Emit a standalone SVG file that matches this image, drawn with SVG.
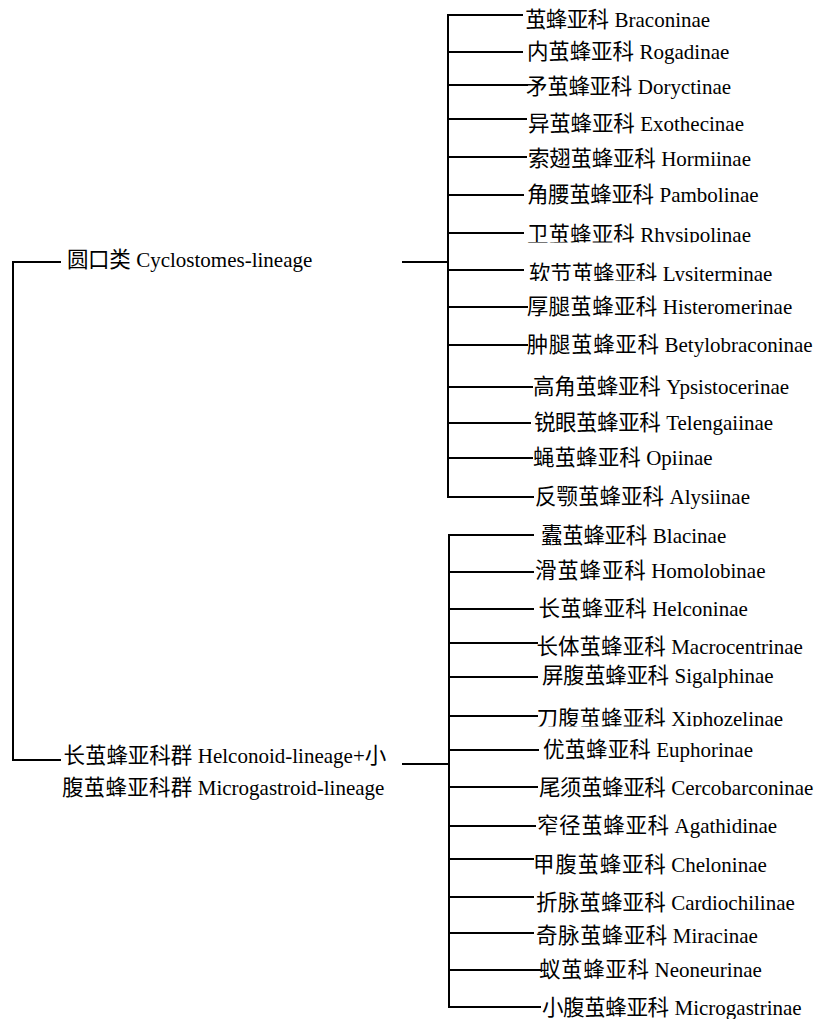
<svg xmlns="http://www.w3.org/2000/svg" width="818" height="1019" viewBox="0 0 818 1019">
<style>
.t{font-family:"Liberation Serif","Times New Roman",serif;font-size:21px;fill:#000}
.z{font-family:"Noto Sans CJK SC","Noto Sans CJK JP",sans-serif;font-size:21.5px;fill:#000}
.c{stroke:#000;stroke-width:2;fill:none;stroke-linecap:square}
</style>
<defs>
<clipPath id="clipR"><rect x="500" y="200" width="318" height="42.5"/></clipPath>
<clipPath id="clipL"><rect x="500" y="250" width="318" height="31"/></clipPath>
<clipPath id="clipX"><rect x="500" y="690" width="318" height="36.5"/></clipPath>
</defs>
<rect width="818" height="1019" fill="#fff"/>
<g id="connectors" class="c">
<path d="M60,262 H13 V760 H60"/>
<path d="M403,262 H448"/>
<path d="M403,764 H449"/>
<path d="M522,15 H448 V497 H533"/>
<path d="M448,52 H522 M448,85 H527 M448,119 H526 M448,157 H526 M448,195 H523 M448,233 H523 M448,270 H523 M448,307 H527 M448,345 H527 M448,387 H532 M448,423 H530 M448,458 H532"/>
<path d="M533,535 H449 V1007 H540"/>
<path d="M449,572 H533 M449,609 H533 M449,643 H537 M449,677 H537 M449,716 H537 M449,750 H538 M449,787 H537 M449,826 H535 M449,859 H533 M449,897 H533 M449,933 H533 M449,970 H540"/>
</g>
<g id="cyclostomes"><text class="z" x="67" y="267" textLength="63.7" lengthAdjust="spacing">圆口类</text><text class="t" x="136.2" y="267">Cyclostomes-lineage</text></g>
<g id="helconoid"><text class="z" x="63.5" y="763" textLength="128.8" lengthAdjust="spacing">长茧蜂亚科群</text><text class="t" x="197.8" y="763">Helconoid-lineage+<tspan class="z">小</tspan></text><text class="z" x="62" y="795" textLength="130.3" lengthAdjust="spacing">腹茧蜂亚科群</text><text class="t" x="197.8" y="795">Microgastroid-lineage</text></g>
<g id="braconinae"><text class="z" x="525" y="26.5" textLength="84" lengthAdjust="spacing">茧蜂亚科</text><text class="t" x="614.5" y="26.5">Braconinae</text></g>
<g id="rogadinae"><text class="z" x="527" y="58.5" textLength="107" lengthAdjust="spacing">内茧蜂亚科</text><text class="t" x="639.5" y="58.5">Rogadinae</text></g>
<g id="doryctinae"><text class="z" x="526" y="94" textLength="106.3" lengthAdjust="spacing">矛茧蜂亚科</text><text class="t" x="637.8" y="94">Doryctinae</text></g>
<g id="exothecinae"><text class="z" x="528" y="130.5" textLength="106.7" lengthAdjust="spacing">异茧蜂亚科</text><text class="t" x="640.2" y="130.5">Exothecinae</text></g>
<g id="hormiinae"><text class="z" x="528" y="166" textLength="127.7" lengthAdjust="spacing">索翅茧蜂亚科</text><text class="t" x="661.2" y="166">Hormiinae</text></g>
<g id="pambolinae"><text class="z" x="527" y="202" textLength="127" lengthAdjust="spacing">角腰茧蜂亚科</text><text class="t" x="659.5" y="202">Pambolinae</text></g>
<g id="rhysipolinae" clip-path="url(#clipR)"><text class="z" x="527" y="242" textLength="107.7" lengthAdjust="spacing">卫茧蜂亚科</text><text class="t" x="640.2" y="242">Rhysipolinae</text></g>
<g id="lysiterminae" clip-path="url(#clipL)"><text class="z" x="529" y="281" textLength="128.3" lengthAdjust="spacing">软节茧蜂亚科</text><text class="t" x="662.8" y="281">Lysiterminae</text></g>
<g id="histeromerinae"><text class="z" x="526.7" y="314" textLength="130.6" lengthAdjust="spacing">厚腿茧蜂亚科</text><text class="t" x="662.8" y="314">Histeromerinae</text></g>
<g id="betylobraconinae"><text class="z" x="526.7" y="351.7" textLength="132.3" lengthAdjust="spacing">肿腿茧蜂亚科</text><text class="t" x="664.5" y="351.7">Betylobraconinae</text></g>
<g id="ypsistocerinae"><text class="z" x="533" y="394" textLength="127.7" lengthAdjust="spacing">高角茧蜂亚科</text><text class="t" x="666.2" y="394">Ypsistocerinae</text></g>
<g id="telengaiinae"><text class="z" x="534" y="430" textLength="126.7" lengthAdjust="spacing">锐眼茧蜂亚科</text><text class="t" x="666.2" y="430">Telengaiinae</text></g>
<g id="opiinae"><text class="z" x="533" y="465" textLength="107.7" lengthAdjust="spacing">蝇茧蜂亚科</text><text class="t" x="646.2" y="465">Opiinae</text></g>
<g id="alysiinae"><text class="z" x="535" y="503.5" textLength="129" lengthAdjust="spacing">反颚茧蜂亚科</text><text class="t" x="669.5" y="503.5">Alysiinae</text></g>
<g id="blacinae"><text class="z" x="541" y="543.3" textLength="106.3" lengthAdjust="spacing">蠹茧蜂亚科</text><text class="t" x="652.8" y="543.3">Blacinae</text></g>
<g id="homolobinae"><text class="z" x="535" y="578.3" textLength="110.7" lengthAdjust="spacing">滑茧蜂亚科</text><text class="t" x="651.2" y="578.3">Homolobinae</text></g>
<g id="helconinae"><text class="z" x="538.5" y="616" textLength="108.2" lengthAdjust="spacing">长茧蜂亚科</text><text class="t" x="652.2" y="616">Helconinae</text></g>
<g id="macrocentrinae"><text class="z" x="536.5" y="654" textLength="129.2" lengthAdjust="spacing">长体茧蜂亚科</text><text class="t" x="671.2" y="654">Macrocentrinae</text></g>
<g id="sigalphinae"><text class="z" x="542" y="683.3" textLength="127" lengthAdjust="spacing">屏腹茧蜂亚科</text><text class="t" x="674.5" y="683.3">Sigalphinae</text></g>
<g id="xiphozelinae" clip-path="url(#clipX)"><text class="z" x="536.5" y="726" textLength="129.2" lengthAdjust="spacing">刀腹茧蜂亚科</text><text class="t" x="671.2" y="726">Xiphozelinae</text></g>
<g id="euphorinae"><text class="z" x="543" y="756.7" textLength="107.7" lengthAdjust="spacing">优茧蜂亚科</text><text class="t" x="656.2" y="756.7">Euphorinae</text></g>
<g id="cercobarconinae"><text class="z" x="539" y="795" textLength="126.7" lengthAdjust="spacing">尾须茧蜂亚科</text><text class="t" x="671.2" y="795">Cercobarconinae</text></g>
<g id="agathidinae"><text class="z" x="537" y="832.7" textLength="132" lengthAdjust="spacing">窄径茧蜂亚科</text><text class="t" x="674.5" y="832.7">Agathidinae</text></g>
<g id="cheloninae"><text class="z" x="533" y="871.7" textLength="132.7" lengthAdjust="spacing">甲腹茧蜂亚科</text><text class="t" x="671.2" y="871.7">Cheloninae</text></g>
<g id="cardiochilinae"><text class="z" x="536" y="910" textLength="129.7" lengthAdjust="spacing">折脉茧蜂亚科</text><text class="t" x="671.2" y="910">Cardiochilinae</text></g>
<g id="miracinae"><text class="z" x="536" y="942.7" textLength="131.3" lengthAdjust="spacing">奇脉茧蜂亚科</text><text class="t" x="672.8" y="942.7">Miracinae</text></g>
<g id="neoneurinae"><text class="z" x="539" y="977.3" textLength="110" lengthAdjust="spacing">蚁茧蜂亚科</text><text class="t" x="654.5" y="977.3">Neoneurinae</text></g>
<g id="microgastrinae"><text class="z" x="542" y="1015" textLength="127" lengthAdjust="spacing">小腹茧蜂亚科</text><text class="t" x="674.5" y="1015">Microgastrinae</text></g>
</svg>
